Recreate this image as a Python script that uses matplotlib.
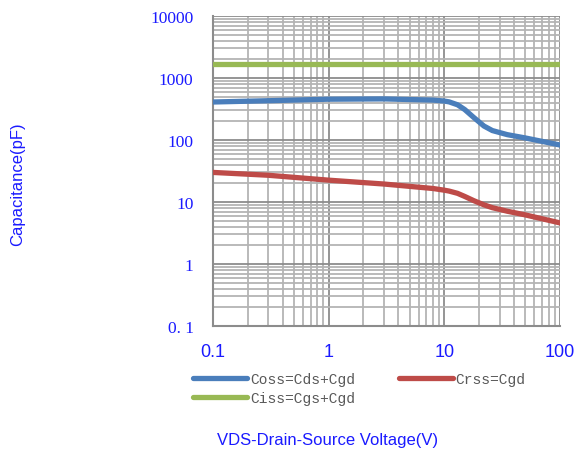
import matplotlib
matplotlib.use("Agg")
import matplotlib.pyplot as plt
from matplotlib.ticker import LogLocator, FixedLocator, FixedFormatter, NullFormatter

# Data
vds = [0.1, 0.3, 1, 3, 8, 10, 11, 13, 15, 18, 22, 26, 35, 50, 100]
ciss = [1700] * 15
coss = [410, 430, 455, 460, 440, 425, 412, 370, 310, 230, 168, 142, 122, 108, 83]
crss = [30, 27, 22.5, 19.5, 16.5, 15.5, 15.0, 13.8, 12.3, 10.5, 9.0, 8.1, 7.1, 6.2, 4.6]

ytick_vals = [0.1, 1, 10, 100, 1000, 10000]
ytick_labels = ["0. 1", "1", "10", "100", "1000", "10000"]
xtick_vals = [0.1, 1, 10, 100]
xtick_labels = ["0.1", "1", "10", "100"]

fig = plt.figure(figsize=(5.76, 4.52), dpi=100)
ax = fig.add_axes([213/576, 1-327/452, (560-213)/576, (327-17)/452])
ax.set_xscale("log")
ax.set_yscale("log")
ax.set_xlim(0.1, 100)
ax.set_ylim(0.1, 10000)

l_coss, = ax.plot(vds, coss, color="#4a7ebb", lw=3.8, solid_capstyle="round", label="Coss=Cds+Cgd", zorder=3)
l_crss, = ax.plot(vds, crss, color="#be4b48", lw=3.8, solid_capstyle="round", label="Crss=Cgd", zorder=3)
l_ciss, = ax.plot(vds, ciss, color="#98b954", lw=3.8, solid_capstyle="round", label="Ciss=Cgs+Cgd", zorder=3)

ax.xaxis.set_major_locator(FixedLocator(xtick_vals))
ax.xaxis.set_major_formatter(FixedFormatter(xtick_labels))
ax.yaxis.set_major_locator(FixedLocator(ytick_vals))
ax.yaxis.set_major_formatter(FixedFormatter(ytick_labels))
ax.xaxis.set_minor_locator(LogLocator(base=10, subs=range(2, 10), numticks=20))
ax.yaxis.set_minor_locator(LogLocator(base=10, subs=range(2, 10), numticks=20))
ax.xaxis.set_minor_formatter(NullFormatter())
ax.yaxis.set_minor_formatter(NullFormatter())

ax.grid(which="major", color="#8c8c8c", lw=1.3)
ax.grid(which="minor", color="#b4b4b4", lw=1.3)
ax.set_axisbelow(True)
ax.tick_params(which="both", length=0)
ax.tick_params(axis="x", labelsize=13, labelcolor="#1a1aff", pad=12)
ax.tick_params(axis="y", labelsize=12.5, labelcolor="#1a1aff", pad=14)
for lab in ax.get_xticklabels():
    lab.set_fontfamily("Liberation Sans")
for lab in ax.get_yticklabels():
    lab.set_fontfamily("Liberation Serif")
for s in ["top", "right"]:
    ax.spines[s].set_visible(False)
for s in ["left", "bottom"]:
    ax.spines[s].set_color("#8c8c8c")
    ax.spines[s].set_linewidth(1.5)

leg = fig.legend(handles=[l_coss, l_ciss, l_crss], loc="upper left",
                 bbox_to_anchor=(180/576, 1-360/452), ncol=2, frameon=False,
                 handlelength=3.7, handletextpad=0.2, columnspacing=3.0,
                 labelspacing=0.35,
                 prop={"family": "Liberation Mono", "size": 10.5})
for t in leg.get_texts():
    t.set_color("#595959")

fig.text(18/576, 1-184/452, "Capacitance(pF)", rotation=90, ha="center", va="center",
         color="#1a1aff", fontsize=12, family="Liberation Sans")
fig.text(328/576, 1-441/452, "VDS-Drain-Source Voltage(V)", ha="center", va="center",
         color="#1a1aff", fontsize=12, family="Liberation Sans")

fig.savefig("out.png", dpi=100)
